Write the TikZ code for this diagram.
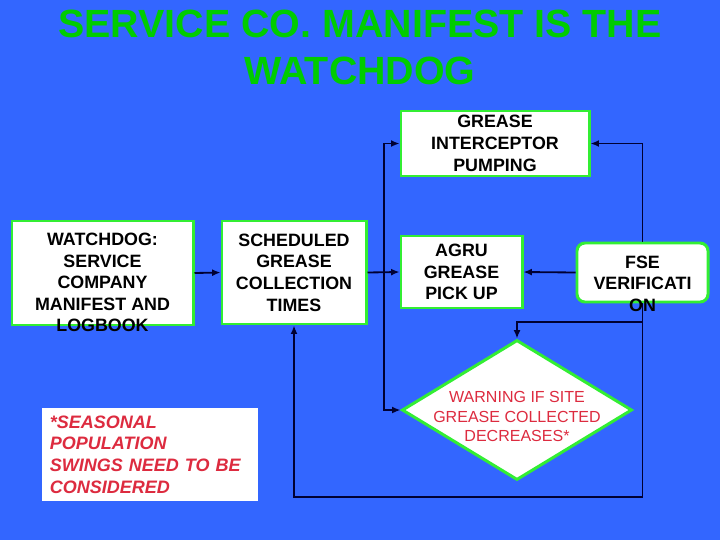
\documentclass[tikz,border=0pt]{standalone}
\usepackage{fontspec}
\setmainfont{Liberation Sans}
\usepackage{tikz}
\usetikzlibrary{shapes.geometric,arrows.meta}

\definecolor{slideblue}{HTML}{3366FF}
\definecolor{titlegreen}{HTML}{00CC00}
\definecolor{boxgreen}{HTML}{33EE33}
\definecolor{warnred}{HTML}{DD2B3F}
\definecolor{linenavy}{HTML}{000033}

\tikzset{
  box/.style={draw=boxgreen, line width=2.1pt, fill=white, inner sep=0pt},
  boxtext/.style={inner sep=0pt, align=center, text=black,
    font=\fontsize{12.7}{15.4}\selectfont\bfseries},
  flow/.style={->, >={Latex[length=6pt,width=5pt]}, draw=linenavy, line width=1.3pt},
}

\begin{document}
\begin{tikzpicture}[x=0.025cm, y=-0.025cm]
          \useasboundingbox[fill=slideblue] (0,0) rectangle (720,540);

          \node (title) at (360, 47) [align=center, text=titlegreen,
                font=\fontsize{28}{33.4}\selectfont\bfseries]
                {SERVICE CO. MANIFEST IS THE\\WATCHDOG};

          \node (gip) at (495, 143.5) [box, boxtext, minimum width=4.7cm, minimum height=1.625cm]
                {GREASE\\INTERCEPTOR\\PUMPING};
          \node (wd) at (102.5, 273) [box, minimum width=4.525cm, minimum height=2.6cm] {};
          \node (sched) at (294, 272.5) [box, boxtext, minimum width=3.6cm, minimum height=2.575cm]
                {SCHEDULED\\GREASE\\COLLECTION\\TIMES};
          \node (agru) at (461.5, 272) [box, boxtext, minimum width=3.025cm, minimum height=1.8cm]
                {AGRU\\GREASE\\PICK UP};
          \node (fse) at (642.5, 272.5) [box, rounded corners=5.7pt, minimum width=3.275cm, minimum height=1.475cm] {};
          \node (warn) at (517, 410) [box, diamond, minimum width=5.75cm, minimum height=3.5cm] {};
          \node (note) at (150, 454.5) [fill=white, inner sep=0.2cm, minimum width=5.4cm, minimum height=2.325cm,
                text width=5cm, align=left, text=warnred,
                font=\fontsize{12.8}{15.4}\selectfont\bfseries\itshape]
                {*SEASONAL\\POPULATION\\SWINGS NEED TO BE\\CONSIDERED};

          \coordinate (split) at (384, 272.5);
          \coordinate (tap) at (642.5, 322);
          \coordinate (loopend) at (642.5, 497);

          \draw[flow] (wd.east) -- (sched.west);
          \draw[flow] (sched.east) -- (agru.west);
          \draw[flow] (split) |- (gip.west);
          \draw[flow] (split) |- (warn.west);
          \draw[flow] (fse.west) -- (agru.east);
          \draw[flow] (fse.north) |- (gip.east);
          \draw[flow] (fse.south) -- (loopend) -| (sched.south);
          \draw[flow] (tap) -| (warn.north);

          \node (wdtext) at (102.5, 282.5) [boxtext]
                {WATCHDOG:\\SERVICE\\COMPANY\\MANIFEST AND\\LOGBOOK};
          \node (fsetext) at (642.5, 283.5) [boxtext]
                {FSE\\VERIFICATI\\ON};
          \node (warntext) at (517, 416.5) [inner sep=0pt, align=center, text=warnred,
                font=\fontsize{11.4}{13.9}\selectfont]
                {WARNING IF SITE\\GREASE COLLECTED\\DECREASES*};
        \end{tikzpicture}
\end{document}
